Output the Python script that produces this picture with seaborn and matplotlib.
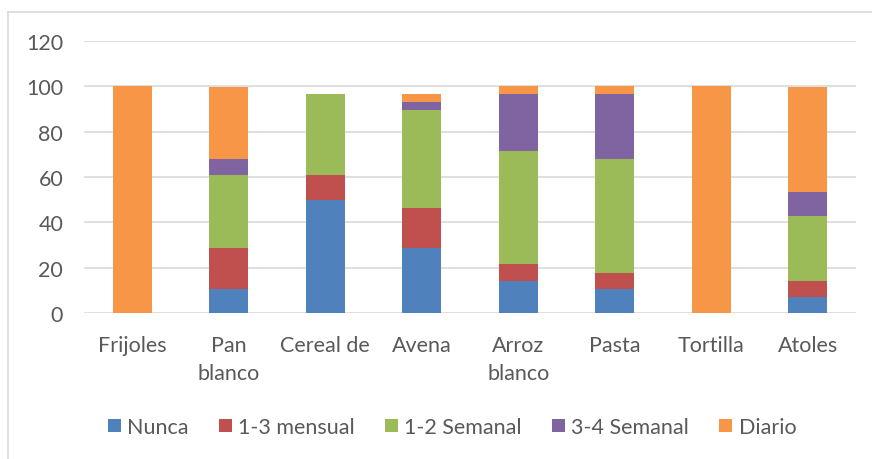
import matplotlib
matplotlib.use("Agg")
import matplotlib.pyplot as plt
import seaborn as sns
import pandas as pd
import numpy as np
from matplotlib.lines import Line2D
from matplotlib.patches import Patch

categories = ["Frijoles", "Pan\nblanco", "Cereal de", "Avena", "Arroz\nblanco", "Pasta", "Tortilla", "Atoles"]
series_names = ["Nunca", "1-3 mensual", "1-2 Semanal", "3-4 Semanal", "Diario"]
nunca =      [0, 10.7, 50.0, 28.6, 14.3, 10.7, 0, 7.1]
mensual13 =  [0, 17.9, 10.7, 17.9, 7.1, 7.1, 0, 7.1]
semanal12 =  [0, 32.1, 35.7, 42.9, 50.0, 50.0, 0, 28.6]
semanal34 =  [0, 7.1, 0, 3.6, 25.0, 28.6, 0, 10.7]
diario =     [100, 32.1, 0, 3.6, 3.6, 3.6, 100, 46.4]
colors = ["#4F81BD", "#C0504D", "#9BBB59", "#8064A2", "#F79646"]
yticks = [0, 20, 40, 60, 80, 100, 120]

sns.set_theme(style="white")
plt.rcParams['font.family'] = ['Lato', 'DejaVu Sans']

W, H = 872, 460
FS = 15.5
fig = plt.figure(figsize=(W / 100, H / 100), dpi=100)
ax = fig.add_axes([84 / W, (H - 314) / H, (856 - 84) / W, (314 - 42) / H])

df = pd.DataFrame({"cat": categories, "Nunca": nunca, "1-3 mensual": mensual13,
                   "1-2 Semanal": semanal12, "3-4 Semanal": semanal34, "Diario": diario})
bottom = np.zeros(len(categories))
for name, col in zip(series_names, colors):
    vals = df[name].to_numpy()
    sns.barplot(x=df["cat"], y=vals, order=categories, color=col, bottom=bottom,
                width=0.4, ax=ax, errorbar=None, saturation=1, zorder=3, linewidth=0)
    bottom = bottom + vals

ax.set_ylim(0, 120)
ax.set_xlim(-0.5, len(categories) - 0.5)
ax.set_yticks(yticks)
ax.yaxis.grid(True, color="#D9D9D9", linewidth=1.2, zorder=0)
ax.set_axisbelow(True)
for s in ax.spines.values():
    s.set_visible(False)
ax.set_xlabel("")
ax.set_ylabel("")
ax.tick_params(axis="y", length=0, pad=15, labelsize=FS, labelcolor="#595959")
ax.tick_params(axis="x", length=0, pad=16, labelsize=FS, labelcolor="#595959")
for t in ax.get_xticklabels():
    t.set_linespacing(1.5)
    t.set_verticalalignment("top")

handles = [Patch(facecolor=c, edgecolor="none") for c in colors]
leg = fig.legend(handles, series_names, loc="center", bbox_to_anchor=(452 / W, 1 - 428 / H),
                 ncol=5, frameon=False, fontsize=FS, handlelength=0.6, handleheight=0.6,
                 handletextpad=0.3, columnspacing=1.4, labelcolor="#595959")

# chart border
fig.add_artist(Line2D([7.5 / W, 1], [1 - 13 / H, 1 - 13 / H], color="#D9D9D9", linewidth=1.2))
fig.add_artist(Line2D([7.5 / W, 7.5 / W], [0, 1 - 13 / H], color="#D9D9D9", linewidth=1.2))

fig.savefig("out.png", dpi=100, facecolor="white")
